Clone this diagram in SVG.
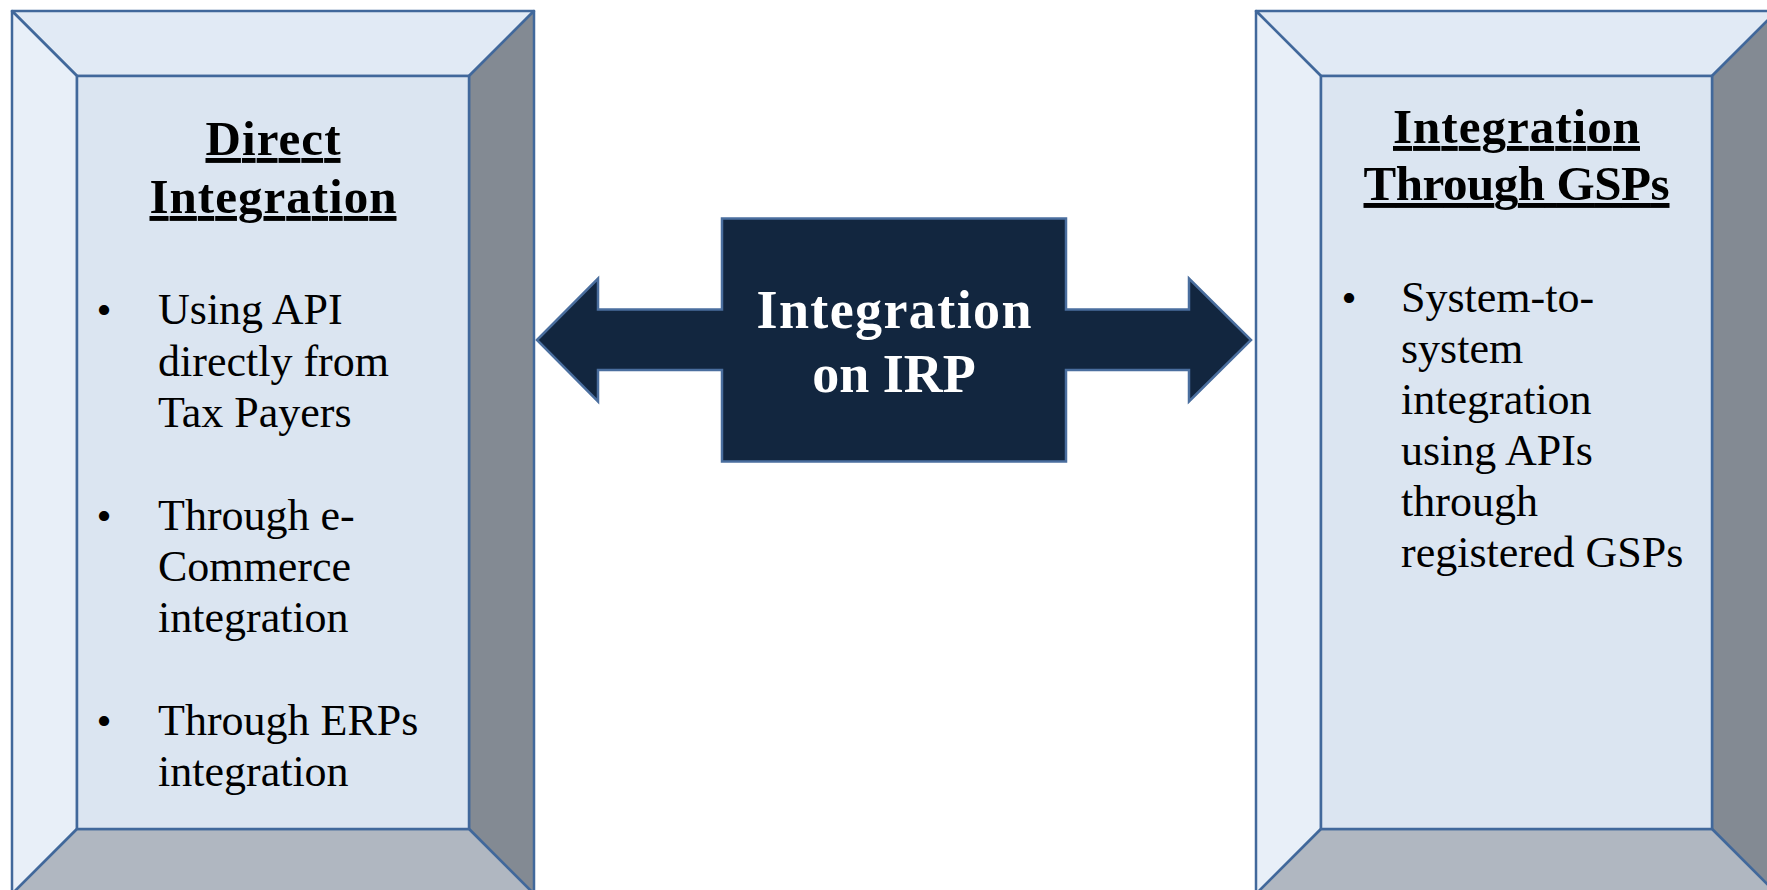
<svg xmlns="http://www.w3.org/2000/svg" width="1767" height="890" viewBox="0 0 1767 890">
  <style>
    .edge { stroke: #41689B; stroke-width: 2.5; stroke-linejoin: round; }
    .top { fill: #E1EAF5; }
    .left { fill: #E8EFF8; }
    .face { fill: #DBE5F1; }
    .right { fill: #838A93; }
    .bottom { fill: #B0B7C1; }
    .title { font-family: "Liberation Serif", "Times New Roman", serif; font-weight: bold; font-size: 49px; fill: #000; text-anchor: middle; text-decoration: underline; }
    .body { font-family: "Liberation Serif", "Times New Roman", serif; font-size: 44px; fill: #000; }
    .bullet { font-family: "Liberation Serif", "Times New Roman", serif; font-size: 43px; fill: #000; text-anchor: middle; }
    .hub { fill: #12263F; stroke: #4A6E9E; stroke-width: 2.5; stroke-linejoin: miter; }
    .hubtext { font-family: "Liberation Serif", "Times New Roman", serif; font-weight: bold; font-size: 54px; fill: #FFFFFF; text-anchor: middle; }
  </style>
  <rect width="1767" height="890" fill="#FFFFFF"/>

  <!-- Left bevelled panel -->
  <g id="direct-integration">
    <polygon class="top edge" points="12,11 534,11 469,76 77,76"/>
    <polygon class="left edge" points="12,11 77,76 77,829 12,894"/>
    <polygon class="right edge" points="534,11 534,894 469,829 469,76"/>
    <polygon class="bottom edge" points="77,829 469,829 534,894 12,894"/>
    <rect class="face edge" x="77" y="76" width="392" height="753"/>
    <text class="title" x="273" y="155" textLength="135">Direct</text>
    <text class="title" x="273" y="213" textLength="247">Integration</text>
    <text class="bullet" x="104" y="324">•</text>
    <text class="body" x="158" y="324">Using API</text>
    <text class="body" x="158" y="375.5">directly from</text>
    <text class="body" x="158" y="427">Tax Payers</text>
    <text class="bullet" x="104" y="529.5">•</text>
    <text class="body" x="158" y="529.5">Through e-</text>
    <text class="body" x="158" y="581">Commerce</text>
    <text class="body" x="158" y="632">integration</text>
    <text class="bullet" x="104" y="734.5">•</text>
    <text class="body" x="158" y="734.5">Through ERPs</text>
    <text class="body" x="158" y="786">integration</text>
  </g>

  <!-- Right bevelled panel (runs past the right edge) -->
  <g id="gsp-integration">
    <polygon class="top edge" points="1256,11 1777,11 1712,76 1321,76"/>
    <polygon class="left edge" points="1256,11 1321,76 1321,829 1256,894"/>
    <polygon class="right edge" points="1777,11 1777,894 1712,829 1712,76"/>
    <polygon class="bottom edge" points="1321,829 1712,829 1777,894 1256,894"/>
    <rect class="face edge" x="1321" y="76" width="391" height="753"/>
    <text class="title" x="1516.5" y="143" textLength="247">Integration</text>
    <text class="title" x="1516.5" y="200" textLength="306">Through GSPs</text>
    <text class="bullet" x="1349" y="312">•</text>
    <text class="body" x="1401" y="312">System-to-</text>
    <text class="body" x="1401" y="363">system</text>
    <text class="body" x="1401" y="414">integration</text>
    <text class="body" x="1401" y="465">using APIs</text>
    <text class="body" x="1401" y="516">through</text>
    <text class="body" x="1401" y="567">registered GSPs</text>
  </g>

  <!-- Central hub with double-headed arrow outline -->
  <g id="integration-on-irp">
    <polygon class="hub" points="537,340 598,278.5 598,309.5 722,309.5 722,218.5 1066,218.5 1066,309.5 1189,309.5 1189,278.5 1251,340 1189,401.5 1189,370 1066,370 1066,461.5 722,461.5 722,370 598,370 598,401.5"/>
    <text class="hubtext" x="894" y="328" textLength="275">Integration</text>
    <text class="hubtext" x="894" y="391.5">on IRP</text>
  </g>

  <!-- The links are drawn as part of the hub outline above -->
  <g id="connectors"/>
</svg>
